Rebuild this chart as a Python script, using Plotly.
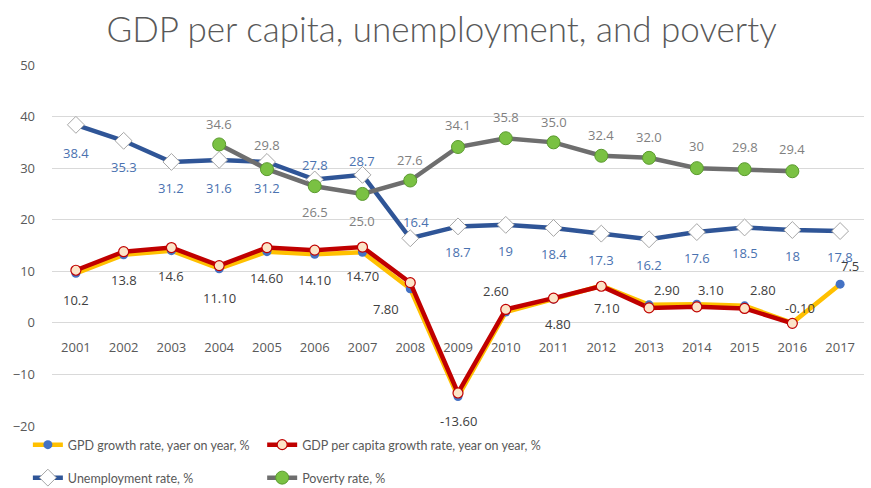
import plotly.graph_objects as go

years = [str(y) for y in range(2001, 2018)]

gdp_growth = [9.6, 13.2, 14.0, 10.5, 13.8, 13.3, 13.7, 6.6, -14.3, 2.1, 4.6, 7.2, 3.5, 3.6, 3.3, 0.0, 7.5]
gdp_pc_growth = [10.2, 13.8, 14.6, 11.1, 14.6, 14.1, 14.7, 7.8, -13.6, 2.6, 4.8, 7.1, 2.9, 3.1, 2.8, -0.1, None]
gdp_pc_labels = ["10.2", "13.8", "14.6", "11.10", "14.60", "14.10", "14.70", "7.80", "-13.60",
                 "2.60", "4.80", "7.10", "2.90", "3.10", "2.80", "-0.10", ""]
gdp_growth_labels = [""] * 16 + ["7.5"]

unemployment = [38.4, 35.3, 31.2, 31.6, 31.2, 27.8, 28.7, 16.4, 18.7, 19, 18.4, 17.3, 16.2, 17.6, 18.5, 18, 17.8]
unemp_labels = ["38.4", "35.3", "31.2", "31.6", "31.2", "27.8", "28.7", "16.4", "18.7", "19",
                "18.4", "17.3", "16.2", "17.6", "18.5", "18", "17.8"]

poverty = [None, None, None, 34.6, 29.8, 26.5, 25.0, 27.6, 34.1, 35.8, 35.0, 32.4, 32.0, 30, 29.8, 29.4, None]
poverty_labels = ["", "", "", "34.6", "29.8", "26.5", "25.0", "27.6", "34.1", "35.8", "35.0",
                  "32.4", "32.0", "30", "29.8", "29.4", ""]

y_ticks = [-20, -10, 0, 10, 20, 30, 40, 50]

# label offsets (pixels) -- styling only
gdp_pc_off = [(0, -30), (0, -28), (0, -28), (0, -32), (0, -30), (0, -30), (0, -29), (-24, -26), (0, -28),
              (-10, 18), (4, -26), (6, -22), (18, 18), (14, 17), (18, 18), (8, 15), (0, 0)]
gdp_g_off = [(0, 0)] * 16 + [(10, 18)]
unemp_off = [(0, -28), (0, -26), (0, -26), (0, -28), (0, -26), (0, 14), (0, 14), (6, 16), (0, -26), (0, -26),
             (0, -26), (0, -26), (0, -26), (0, -26), (0, -26), (0, -26), (0, -26)]
pov_off = [(0, 0)] * 3 + [(0, 20), (0, 24), (0, -26), (0, -27), (0, 21), (0, 22), (0, 21), (0, 20),
                          (0, 21), (0, 21), (0, 22), (0, 22), (0, 22), (0, 0)]

FONT = "Open Sans"
LEGFONT = "Lato"
fig = go.Figure()

fig.add_trace(go.Scatter(
    x=years, y=gdp_growth, mode="lines+markers", name="GPD growth rate, yaer on year, %",
    line=dict(color="#FFC000", width=4.5),
    marker=dict(symbol="circle", size=9, color="#4472C4", line=dict(width=0)),
    legend="legend"))
fig.add_trace(go.Scatter(
    x=years, y=gdp_pc_growth, mode="lines+markers", name="GDP per capita growth rate, year on year, %",
    line=dict(color="#C00000", width=4.5),
    marker=dict(symbol="circle", size=10, color="#FCE4C8", line=dict(color="#C00000", width=1.2)),
    legend="legend2"))
fig.add_trace(go.Scatter(
    x=years, y=unemployment, mode="lines+markers", name="Unemployment rate, %",
    line=dict(color="#2F5597", width=4.5),
    marker=dict(symbol="diamond", size=13, color="#FFFFFF", line=dict(color="#A6A6A6", width=1)),
    legend="legend3"))
fig.add_trace(go.Scatter(
    x=years, y=poverty, mode="lines+markers", name="Poverty rate, %",
    line=dict(color="#6E6E6E", width=4.5),
    marker=dict(symbol="circle", size=13, color="#7AC143", line=dict(color="#5A9A2E", width=1)),
    legend="legend4"))

anns = []


def add_labels(vals, labels, offs, color):
    for i, (v, t, (dx, dy)) in enumerate(zip(vals, labels, offs)):
        if v is None or t == "":
            continue
        anns.append(dict(x=i, y=v, xref="x", yref="y", text=t, showarrow=False, xshift=dx, yshift=dy,
                         font=dict(family=FONT, size=13, color=color)))


add_labels(gdp_pc_growth, gdp_pc_labels, gdp_pc_off, "#404040")
add_labels(gdp_growth, gdp_growth_labels, gdp_g_off, "#404040")
add_labels(unemployment, unemp_labels, unemp_off, "#4A72B0")
add_labels(poverty, poverty_labels, pov_off, "#7F7F7F")

leg_common = dict(orientation="h", xref="container", yref="container", yanchor="middle", xanchor="left",
                  font=dict(family=LEGFONT, size=12.5, color="#595959"), bgcolor="rgba(0,0,0,0)",
                  itemwidth=30)

fig.update_layout(
    width=871, height=488,
    margin=dict(l=52, r=7, t=65, b=62, autoexpand=False),
    paper_bgcolor="white", plot_bgcolor="white",
    title=dict(text="GDP per capita, unemployment, and poverty", x=0.507, xanchor="center",
               y=0.939, yanchor="middle",
               font=dict(family="Lato", weight=300, size=35, color="#595959")),
    font=dict(family=FONT, color="#595959"),
    annotations=anns,
    legend=dict(x=0.032, y=1 - 445 / 488, **leg_common),
    legend2=dict(x=0.301, y=1 - 445 / 488, **leg_common),
    legend3=dict(x=0.032, y=1 - 478 / 488, **leg_common),
    legend4=dict(x=0.301, y=1 - 478 / 488, **leg_common),
    showlegend=True,
)

fig.update_xaxes(type="category", range=[-0.5, 16.5], anchor="free", position=20 / 70, showgrid=False,
                 showline=False, ticks="", tickfont=dict(family=FONT, size=13, color="#595959"),
                 ticklabelstandoff=15, zeroline=False)
fig.update_yaxes(range=[-20, 50], tickvals=y_ticks, showgrid=True, gridcolor="#D9D9D9", gridwidth=1,
                 zeroline=True, zerolinecolor="#D9D9D9", zerolinewidth=1, showline=False,
                 ticks="", tickfont=dict(family=FONT, size=13, color="#595959"), ticklabelstandoff=16,
                 domain=[0, 1])

fig.write_html("out.html", config={"displayModeBar": False},
               post_script="document.body.style.margin='0';")
